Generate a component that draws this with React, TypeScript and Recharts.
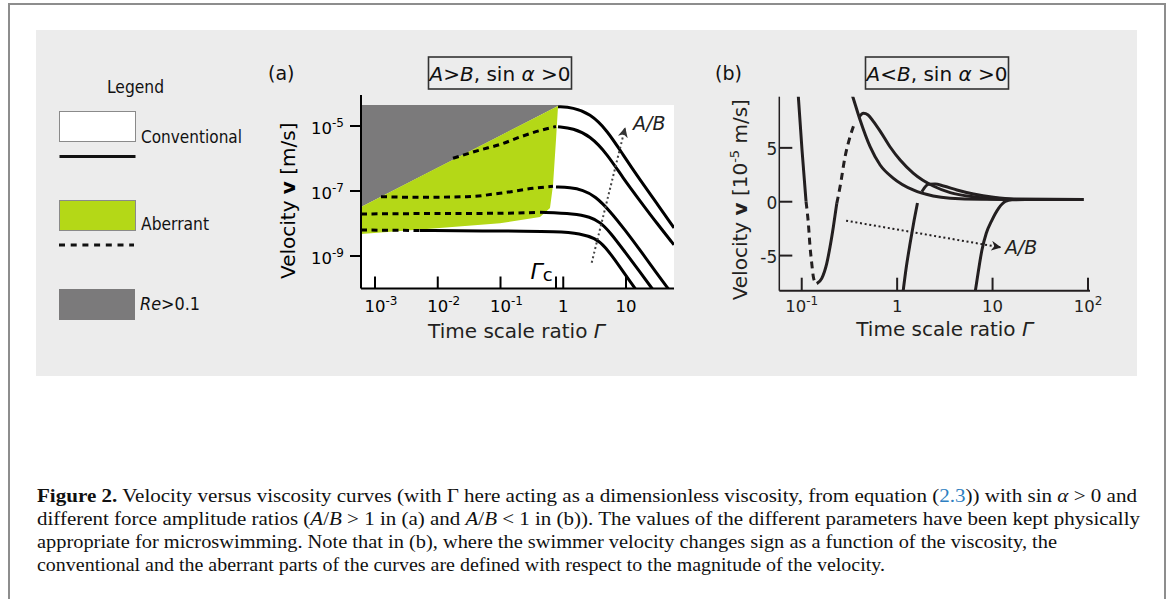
import React from 'react'
import { Area, ComposedChart, Line, ReferenceDot, XAxis, YAxis } from 'recharts'

const SANS = '"DejaVu Sans", Verdana, sans-serif'
const SERIF = '"Liberation Serif", "Times New Roman", serif'
const INK = '#000'
const INK_B = '#231f20'
const LIME = '#b4d817'
const RE_GREY = '#7b7a7b'
const PANEL = '#ececec'

// ---------- panel (a): A>B, log-log ----------
const xDomainA = [5.98e-4, 58.2]
const yDomainA = [1e-10, 9e-5]
const xTicksA = [1e-3, 1e-2, 1e-1, 0.766, 1, 10]
const xTickBaseA = ['10', '10', '10', '', '1', '10']
const xTickExpA = ['-3', '-2', '-1', '', '', '']
const yTicksA = [1e-9, 1e-7, 1e-5]
const yTickExpA = ['-9', '-7', '-5']

// shaded regions, r = [lower, upper] velocity
const plotBgA = [
  { g: 5.98e-4, r: [1e-10, 4.4e-5] },
  { g: 58.2, r: [1e-10, 4.4e-5] },
]
const highReA = [
  { g: 5.98e-4, r: [3.22e-8, 4.4e-5] },
  { g: 0.825, r: [4.12e-5, 4.4e-5] },
]
const aberrantZoneA = [
  { g: 5.98e-4, r: [4.75e-9, 3.22e-8] },
  { g: 7.52e-3, r: [6.92e-9, 3.95e-7] },
  { g: 0.0982, r: [1.01e-8, 5.04e-6] },
  { g: 0.426, r: [1.58e-8, 2.15e-5] },
  { g: 0.615, r: [3.0e-8, 3.1e-5] },
  { g: 0.687, r: [1.53e-7, 3.45e-5] },
  { g: 0.766, r: [3.71e-6, 3.85e-5] },
  { g: 0.825, r: [3.98e-5, 4.12e-5] },
]

// conventional (solid) branches
const conv1A = [
  { g: 0.825, v: 3.92e-5 }, { g: 1.43, v: 3.71e-5 }, { g: 2.669, v: 2.4e-5 },
  { g: 4.98, v: 7.5e-6 }, { g: 8.96, v: 1.3e-6 }, { g: 16.71, v: 2.2e-7 },
  { g: 31.19, v: 4.1e-8 }, { g: 58.2, v: 7.3e-9 },
]
const conv2A = [
  { g: 0.825, v: 9.52e-6 }, { g: 1.43, v: 8.5e-6 }, { g: 2.669, v: 5.0e-6 },
  { g: 4.98, v: 1.4e-6 }, { g: 8.96, v: 2.5e-7 }, { g: 16.71, v: 5.0e-8 },
  { g: 31.19, v: 1.0e-8 }, { g: 58.2, v: 2.2e-9 },
]
const conv3A = [
  { g: 0.766, v: 1.33e-7 }, { g: 1.281, v: 1.28e-7 }, { g: 2.064, v: 1.074e-7 },
  { g: 3.206, v: 7.02e-8 }, { g: 5.56, v: 2.43e-8 }, { g: 9.64, v: 6.31e-9 },
  { g: 16.71, v: 1.53e-9 }, { g: 28.97, v: 3.45e-10 }, { g: 46.7, v: 1e-10 },
  { g: 58.2, v: 5.9e-11 },
]
const conv4A = [
  { g: 0.4261, v: 2.21e-8 }, { g: 1.539, v: 2.03e-8 }, { g: 2.669, v: 1.585e-8 },
  { g: 3.853, v: 1.11e-8 }, { g: 5.56, v: 5.48e-9 }, { g: 9.64, v: 1.33e-9 },
  { g: 16.71, v: 3.22e-10 }, { g: 25.96, v: 1e-10 }, { g: 34.8, v: 4.75e-11 },
]
const conv5A = [
  { g: 5.21e-3, v: 6.1e-9 }, { g: 0.0982, v: 5.88e-9 }, { g: 0.888, v: 5.67e-9 },
  { g: 1.849, v: 4.93e-9 }, { g: 3.206, v: 3.58e-9 }, { g: 4.627, v: 2.03e-9 },
  { g: 8.02, v: 4.59e-10 }, { g: 13.91, v: 1e-10 }, { g: 20.09, v: 3.98e-11 },
]

// aberrant (dashed) branches
const aber2A = [
  { g: 0.0175, v: 1.015e-6 }, { g: 0.0471, v: 1.83e-6 }, { g: 0.0982, v: 2.7e-6 },
  { g: 0.2046, v: 4.59e-6 }, { g: 0.4261, v: 7.27e-6 }, { g: 0.766, v: 9.65e-6 },
]
const aber3A = [
  { g: 1.246e-3, v: 6.68e-8 }, { g: 4.62e-3, v: 6.4e-8 }, { g: 0.0289, v: 6.68e-8 },
  { g: 0.0982, v: 8.5e-8 }, { g: 0.3296, v: 1.21e-7 }, { g: 0.6866, v: 1.395e-7 },
]
const aber4A = [
  { g: 5.98e-4, v: 1.96e-8 }, { g: 7.52e-3, v: 2.03e-8 },
  { g: 0.0982, v: 2.06e-8 }, { g: 0.396, v: 2.21e-8 },
]
const aber5A = [{ g: 5.98e-4, v: 6.31e-9 }, { g: 5.21e-3, v: 6.1e-9 }]

const trendA = [{ g: 2.84, v: 6.22e-10 }, { g: 9.64, v: 8.5e-6 }]
const ratioLabelA = { g: 12.93, v: 7.53e-6 }
const gammaCLabelA = { g: 0.3, v: 1.96e-10 }

// ---------- panel (b): A<B, log x, linear v (1e-5 m/s) ----------
const xDomainB = [0.0582, 105]
const yDomainB = [-8.26, 9.75]
const xTicksB = [0.1, 1, 10, 100]
const xTickBaseB = ['10', '1', '10', '10']
const xTickExpB = ['-1', '', '', '2']
const yTicksB = [-5, 0, 5]
const yTickLabelsB = ['-5', '0', '5']

const c1SolidLeftB = [{ g: 0.0901, v: 11 }, { g: 0.1007, v: 4.8 }, { g: 0.111, v: 0 }]
const c1DashDownB = [
  { g: 0.111, v: 0 }, { g: 0.1173, v: -2.0 }, { g: 0.1222, v: -4.18 },
  { g: 0.1273, v: -5.72 }, { g: 0.1323, v: -6.96 }, { g: 0.1379, v: -7.45 },
]
const c1SolidMidB = [
  { g: 0.1437, v: -7.6 }, { g: 0.1622, v: -7.11 }, { g: 0.183, v: -5.72 },
  { g: 0.1981, v: -4.18 }, { g: 0.2146, v: -2.32 }, { g: 0.233, v: -0.15 },
]
const c1DashUpB = [
  { g: 0.233, v: -0.15 }, { g: 0.2522, v: 1.39 }, { g: 0.2847, v: 4.18 },
  { g: 0.3211, v: 6.04 }, { g: 0.3624, v: 7.43 },
]
const c1SolidRightB = [
  { g: 0.3994, v: 7.86 }, { g: 0.4429, v: 8.21 }, { g: 0.4963, v: 8.05 },
  { g: 0.56, v: 7.49 }, { g: 0.6633, v: 6.56 }, { g: 0.8444, v: 5.08 },
  { g: 1.075, v: 3.87 }, { g: 1.472, v: 2.66 }, { g: 2.387, v: 1.46 },
  { g: 3.6, v: 0.85 }, { g: 6.58, v: 0.44 }, { g: 12.04, v: 0.23 },
  { g: 31.7, v: 0.2 }, { g: 89.5, v: 0.2 },
]
const c2B = [
  { g: 0.309, v: 11 }, { g: 0.3428, v: 9.75 }, { g: 0.409, v: 7.59 },
  { g: 0.5206, v: 5.11 }, { g: 0.6633, v: 3.41 }, { g: 0.9078, v: 2.2 },
  { g: 1.472, v: 1.09 }, { g: 2.387, v: 0.53 }, { g: 3.6, v: 0.32 },
  { g: 7.43, v: 0.22 }, { g: 89.5, v: 0.2 },
]
const c3LowB = [
  { g: 1.156, v: -8.29 }, { g: 1.243, v: -6.16 }, { g: 1.369, v: -3.83 },
  { g: 1.508, v: -1.7 }, { g: 1.633, v: -0.12 },
]
const c3HighB = [
  { g: 1.816, v: 0.93 }, { g: 2.13, v: 1.62 }, { g: 2.504, v: 1.64 },
  { g: 3.061, v: 1.46 }, { g: 4.23, v: 1.09 }, { g: 6.32, v: 0.71 },
  { g: 10.24, v: 0.41 }, { g: 16.61, v: 0.25 }, { g: 89.5, v: 0.2 },
]
const c4B = [
  { g: 6.58, v: -8.36 }, { g: 7.13, v: -6.34 }, { g: 7.74, v: -4.48 },
  { g: 8.59, v: -2.93 }, { g: 9.86, v: -1.7 }, { g: 11.56, v: -0.61 },
  { g: 13.59, v: 0.02 }, { g: 15.98, v: 0.18 }, { g: 22, v: 0.2 }, { g: 89.5, v: 0.2 },
]
const trendB = [{ g: 0.2917, v: -1.76 }, { g: 12.04, v: -4.23 }]
const ratioLabelB = { g: 13.46, v: -4.86 }

// ---------- caption ----------
const captionWidths = [1100, 1103, 1020, 848]

const solid = {
  type: 'monotone' as const,
  dataKey: 'v',
  strokeWidth: 3,
  dot: false,
  activeDot: false,
  isAnimationActive: false,
}
const smooth = { ...solid, type: 'basis' as const }
const dashed = { ...solid, strokeDasharray: '6 4.5' }
const dotted = {
  type: 'linear' as const,
  dataKey: 'v',
  strokeWidth: 2,
  strokeDasharray: '2 2.7',
  dot: false,
  activeDot: false,
  isAnimationActive: false,
}
const band = {
  type: 'linear' as const,
  dataKey: 'r',
  stroke: 'none',
  fillOpacity: 1,
  dot: false,
  activeDot: false,
  isAnimationActive: false,
}

function XTickA(p: any) {
  const i = p.index
  return (
    <g>
      <line x1={p.x} x2={p.x} y1={p.y} y2={p.y - 12} stroke={INK} strokeWidth={2} />
      {xTickBaseA[i] && (
        <text x={p.x} y={p.y + 23} textAnchor="middle" fontFamily={SANS} fontSize={16.5} fill={INK}>
          {xTickBaseA[i]}
        </text>
      )}
      {xTickExpA[i] && (
        <text x={p.x + 10.5} y={p.y + 16} fontFamily={SANS} fontSize={12} fill={INK}>
          {xTickExpA[i]}
        </text>
      )}
    </g>
  )
}

function YTickA(p: any) {
  return (
    <g>
      <line x1={p.x - 11} x2={p.x} y1={p.y} y2={p.y} stroke={INK} strokeWidth={2} />
      <text x={p.x - 17} y={p.y + 8} textAnchor="end" fontFamily={SANS} fontSize={16.5} fill={INK}>
        10<tspan dy={-7} fontSize={12}>{yTickExpA[p.index]}</tspan>
      </text>
    </g>
  )
}

function XTickB(p: any) {
  const i = p.index
  return (
    <g>
      <line x1={p.x} x2={p.x} y1={p.y} y2={p.y - 13} stroke={INK_B} strokeWidth={2} />
      <text x={p.x} y={p.y + 21} textAnchor="middle" fontFamily={SANS} fontSize={16.5} fill={INK_B}>
        {xTickBaseB[i]}
        {xTickExpB[i] && (
          <tspan dy={-7} fontSize={12}>
            {xTickExpB[i]}
          </tspan>
        )}
      </text>
    </g>
  )
}

function YTickB(p: any) {
  return (
    <g>
      <line x1={p.x} x2={p.x + 13} y1={p.y} y2={p.y} stroke={INK_B} strokeWidth={2} />
      <text x={p.x - 2} y={p.y + 7.5} textAnchor="end" fontFamily={SANS} fontSize={17} fill={INK_B}>
        {yTickLabelsB[p.index]}
      </text>
    </g>
  )
}

const xTitle = (dx: number, dy: number) => (p: any) => {
  const { x, y, width } = p.viewBox
  return (
    <text x={x + width / 2 + dx} y={y + dy} textAnchor="middle" fontFamily={SANS} fontSize={20} fill={INK_B}>
      Time scale ratio <tspan fontStyle="italic">Γ</tspan>
    </text>
  )
}

const yTitleA = (p: any) => {
  const { x, y, height } = p.viewBox
  const cx = x + 45
  const cy = y + height / 2 + 9
  return (
    <text x={cx} y={cy} transform={`rotate(-90 ${cx} ${cy})`} textAnchor="middle" fontFamily={SANS} fontSize={20} fill={INK}>
      Velocity <tspan fontWeight="bold">v</tspan> [m/s]
    </text>
  )
}

const yTitleB = (p: any) => {
  const { x, y, height } = p.viewBox
  const cx = x + 47
  const cy = y + height / 2 + 6
  return (
    <text x={cx} y={cy} transform={`rotate(-90 ${cx} ${cy})`} textAnchor="middle" fontFamily={SANS} fontSize={20} fill={INK_B}>
      Velocity <tspan fontWeight="bold">v</tspan> [10
      <tspan dy={-8} fontSize={13}>-5</tspan>
      <tspan dy={8}> m/s]</tspan>
    </text>
  )
}

const ratioText = (fill: string) => (p: any) => (
  <text x={p.cx} y={p.cy} fontFamily={SANS} fontSize={19} fontStyle="italic" fill={fill}>
    A/B
  </text>
)

const gammaCText = (p: any) => (
  <text x={p.cx} y={p.cy} fontFamily={SANS} fontSize={22} fill={INK}>
    <tspan fontStyle="italic">Γ</tspan>
    <tspan fontSize={18} dy={2}>c</tspan>
  </text>
)

function ArrowDef({ id, color }: { id: string; color: string }) {
  return (
    <defs>
      <marker id={id} viewBox="0 0 10 10" refX="9" refY="5" markerWidth="10" markerHeight="10" markerUnits="userSpaceOnUse" orient="auto">
        <path d="M0,0 L10,5 L0,10 L3,5 z" fill={color} />
      </marker>
    </defs>
  )
}

function PanelA() {
  return (
    <ComposedChart width={430} height={270} margin={{ top: 15, right: 6, left: 0, bottom: 1.5 }}>
      <ArrowDef id="arrowA" color="#333" />
      <XAxis
        type="number"
        dataKey="g"
        scale="log"
        domain={xDomainA}
        allowDataOverflow
        ticks={xTicksA}
        interval={0}
        height={60}
        tickSize={0}
        tickMargin={0}
        tickLine={false}
        axisLine={{ stroke: INK, strokeWidth: 2 }}
        tick={(p: any) => <XTickA {...p} />}
        label={xTitle(-1, 49.5)}
      />
      <YAxis
        type="number"
        scale="log"
        domain={yDomainA}
        allowDataOverflow
        ticks={yTicksA}
        interval={0}
        width={111}
        tickSize={0}
        tickMargin={0}
        tickLine={false}
        axisLine={{ stroke: INK, strokeWidth: 2 }}
        tick={(p: any) => <YTickA {...p} />}
        label={yTitleA}
      />
      <Area {...band} data={plotBgA} fill="#ffffff" />
      <Area {...band} data={highReA} fill={RE_GREY} />
      <Area {...band} data={aberrantZoneA} fill={LIME} />
      <Line {...dashed} data={aber2A} stroke={INK} />
      <Line {...dashed} data={aber3A} stroke={INK} />
      <Line {...dashed} data={aber4A} stroke={INK} />
      <Line {...dashed} data={aber5A} stroke={INK} />
      <Line {...smooth} data={conv1A} stroke={INK} />
      <Line {...smooth} data={conv2A} stroke={INK} />
      <Line {...smooth} data={conv3A} stroke={INK} />
      <Line {...smooth} data={conv4A} stroke={INK} />
      <Line {...smooth} data={conv5A} stroke={INK} />
      <Line {...dotted} data={trendA} stroke="#444" markerEnd="url(#arrowA)" />
      <ReferenceDot x={ratioLabelA.g} y={ratioLabelA.v} shape={ratioText('#222')} />
      <ReferenceDot x={gammaCLabelA.g} y={gammaCLabelA.v} shape={gammaCText} />
    </ComposedChart>
  )
}

function PanelB() {
  return (
    <ComposedChart width={420} height={270} margin={{ top: 16.7, right: 30, left: 0, bottom: 0 }}>
      <ArrowDef id="arrowB" color={INK_B} />
      <XAxis
        type="number"
        dataKey="g"
        scale="log"
        domain={xDomainB}
        allowDataOverflow
        ticks={xTicksB}
        interval={0}
        height={59.3}
        tickSize={0}
        tickMargin={0}
        tickLine={false}
        axisLine={{ stroke: INK_B, strokeWidth: 2 }}
        tick={(p: any) => <XTickB {...p} />}
        label={xTitle(10, 44.8)}
      />
      <YAxis
        type="number"
        domain={yDomainB}
        allowDataOverflow
        ticks={yTicksB}
        interval={0}
        width={79.3}
        tickSize={0}
        tickMargin={0}
        tickLine={false}
        axisLine={{ stroke: INK_B, strokeWidth: 1.5 }}
        tick={(p: any) => <YTickB {...p} />}
        label={yTitleB}
      />
      <Line {...solid} data={c1SolidLeftB} stroke={INK_B} />
      <Line {...dashed} data={c1DashDownB} stroke={INK_B} strokeDasharray="7 5" />
      <Line {...solid} data={c1SolidMidB} stroke={INK_B} />
      <Line {...dashed} data={c1DashUpB} stroke={INK_B} strokeDasharray="7 5" />
      <Line {...solid} data={c1SolidRightB} stroke={INK_B} />
      <Line {...solid} data={c2B} stroke={INK_B} />
      <Line {...solid} data={c3LowB} stroke={INK_B} />
      <Line {...solid} data={c3HighB} stroke={INK_B} />
      <Line {...solid} data={c4B} stroke={INK_B} />
      <Line {...dotted} data={trendB} stroke={INK_B} markerEnd="url(#arrowB)" />
      <ReferenceDot x={ratioLabelB.g} y={ratioLabelB.v} shape={ratioText(INK_B)} />
    </ComposedChart>
  )
}

function Backdrop() {
  const cap = { fontFamily: SERIF, fontSize: 19.5, fill: '#111', lengthAdjust: 'spacingAndGlyphs' as const }
  return (
    <svg width={1168} height={599} style={{ position: 'absolute', left: 0, top: 0 }}>
      <rect x={9} y={4} width={1156} height={640} fill="#fff" stroke="#8d8d8d" strokeWidth={2} />
      <rect x={36} y={30} width={1101} height={346} fill={PANEL} />

      {/* legend */}
      <g fontFamily={SANS} fontSize={17} fill="#111">
        <text x={107} y={93} textLength={57} lengthAdjust="spacingAndGlyphs">Legend</text>
        <rect x={59.5} y={111.5} width={76} height={30} fill="#fff" stroke="#8a8a8a" />
        <line x1={59.5} x2={135.5} y1={156.5} y2={156.5} stroke="#111" strokeWidth={3} />
        <text x={141} y={142.5} textLength={101} lengthAdjust="spacingAndGlyphs">Conventional</text>
        <rect x={59.5} y={200.5} width={76} height={30} fill={LIME} stroke="#8a8a8a" />
        <text x={141} y={230} textLength={68} lengthAdjust="spacingAndGlyphs">Aberrant</text>
        <line x1={59} x2={134} y1={245} y2={245} stroke="#111" strokeWidth={3} strokeDasharray="6 5.7" />
        <rect x={59} y={289} width={76} height={31} fill={RE_GREY} />
        <text x={140} y={309.5} textLength={60} lengthAdjust="spacingAndGlyphs">
          <tspan fontStyle="italic">Re</tspan>&gt;0.1
        </text>
      </g>

      {/* panel titles */}
      <g fontFamily={SANS} fill="#111">
        <text x={268} y={80} fontSize={19}>(a)</text>
        <rect x={428.5} y={57} width={143} height={32} fill="none" stroke="#333" strokeWidth={1.6} />
        <text x={500} y={80.5} fontSize={20} textAnchor="middle">
          <tspan fontStyle="italic">A</tspan>&gt;<tspan fontStyle="italic">B</tspan>, sin<tspan fontStyle="italic"> α</tspan> &gt;0
        </text>
        <text x={715} y={80} fontSize={19}>(b)</text>
        <rect x={865.5} y={57} width={143} height={32} fill="none" stroke="#333" strokeWidth={1.6} />
        <text x={937} y={80.5} fontSize={20} textAnchor="middle">
          <tspan fontStyle="italic">A</tspan>&lt;<tspan fontStyle="italic">B</tspan>, sin<tspan fontStyle="italic"> α</tspan> &gt;0
        </text>
      </g>

      {/* caption */}
      <text x={37} y={502} {...cap} textLength={captionWidths[0]}>
        <tspan fontWeight="bold">Figure 2.</tspan> Velocity versus viscosity curves (with Γ  here acting as a dimensionless viscosity, from equation (<tspan fill="#2f7fc1">2.3</tspan>)) with sin <tspan fontStyle="italic">α</tspan> &gt; 0 and
      </text>
      <text x={37} y={525} {...cap} textLength={captionWidths[1]}>
        different force amplitude ratios (<tspan fontStyle="italic">A</tspan>/<tspan fontStyle="italic">B</tspan> &gt; 1 in (a) and <tspan fontStyle="italic">A</tspan>/<tspan fontStyle="italic">B</tspan> &lt; 1 in (b)). The values of the different parameters have been kept physically
      </text>
      <text x={37} y={548} {...cap} textLength={captionWidths[2]}>
        appropriate for microswimming. Note that in (b), where the swimmer velocity changes sign as a function of the viscosity, the
      </text>
      <text x={37} y={571} {...cap} textLength={captionWidths[3]}>
        conventional and the aberrant parts of the curves are defined with respect to the magnitude of the velocity.
      </text>
    </svg>
  )
}

export default function App() {
  return (
    <div style={{ position: 'absolute', left: 0, top: 0, width: 1168, height: 599, background: '#fff', overflow: 'hidden' }}>
      <Backdrop />
      <div style={{ position: 'absolute', left: 250, top: 80 }}>
        <PanelA />
      </div>
      <div style={{ position: 'absolute', left: 700, top: 80 }}>
        <PanelB />
      </div>
    </div>
  )
}
